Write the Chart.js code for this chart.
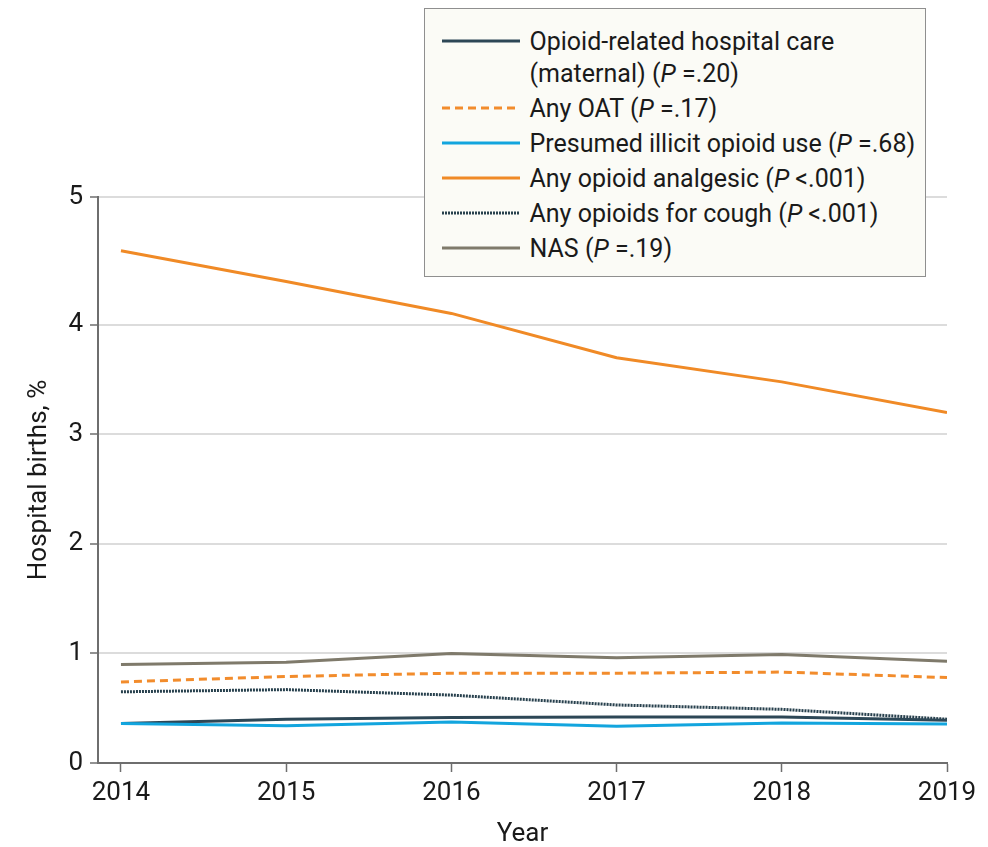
<!DOCTYPE html>
<html>
<head>
<meta charset="utf-8">
<title>Opioid-related hospital births, 2014-2019</title>
<script src="https://cdn.jsdelivr.net/npm/chart.js@4.4.1/dist/chart.umd.min.js"></script>
<style>
  html, body { margin: 0; padding: 0; background: #ffffff; }
  #wrap { position: relative; width: 988px; height: 847px; }
  #legend {
    position: absolute; left: 424px; top: 8px; width: 502px; height: 269px;
    box-sizing: border-box; background: #fbfbf6; border: 1.5px solid #8f8f8f;
    padding: 16.5px 0 0 16.5px;
    font-family: Roboto, "Noto Sans", sans-serif; font-size: 25px; color: #1a1a1a;
  }
  .row { display: flex; align-items: flex-start; margin-bottom: 3px; }
  .row svg { flex: 0 0 78px; margin-right: 10px; display: block; }
  .row .txt { line-height: 32px; white-space: nowrap; }
</style>
</head>
<body>
<div id="wrap">
  <canvas id="chart" width="988" height="847"></canvas>
  <div id="legend"></div>
</div>
<script>
// Share of hospital births (%) by year
const years = [2014, 2015, 2016, 2017, 2018, 2019];
const maternalCare    = [0.36, 0.40, 0.415, 0.42, 0.42, 0.39];
const anyOAT          = [0.74, 0.79, 0.82, 0.82, 0.83, 0.78];
const illicitUse      = [0.36, 0.34, 0.375, 0.335, 0.365, 0.355];
const opioidAnalgesic = [4.58, 4.34, 4.09, 3.70, 3.48, 3.20];
const coughOpioids    = [0.65, 0.67, 0.62, 0.53, 0.49, 0.40];
const nas             = [0.90, 0.92, 1.00, 0.96, 0.99, 0.93];

const seriesLabels = [
  ['Opioid-related hospital care', '(maternal)'],
  ['Any OAT'],
  ['Presumed illicit opioid use'],
  ['Any opioid analgesic'],
  ['Any opioids for cough'],
  ['NAS']
];
const pValues = ['=.20', '=.17', '=.68', '<.001', '<.001', '=.19'];
const yTickValues = [0, 1, 2, 3, 4, 5];

const seriesData = [maternalCare, anyOAT, illicitUse, opioidAnalgesic, coughOpioids, nas];
const seriesStyles = [
  { color: '#2d4756', dash: [],       order: 1 },
  { color: '#f28c2c', dash: [8, 5],   order: 2 },
  { color: '#12a5de', dash: [],       order: 0 },
  { color: '#f08a26', dash: [],       order: 3 },
  { color: '#27404d', dash: [2, 1],   order: 4 },
  { color: '#7f7a6b', dash: [],       order: 5 }
];

// Linear value axis whose top interval (4-5) gets a larger share of the height
const knotValues = [0, 4, 5];
const knotShares = [0, 0.774, 1];
class StretchedLinearScale extends Chart.LinearScale {
  toShare(v) {
    for (let i = 1; i < knotValues.length; i++) {
      if (v <= knotValues[i] || i === knotValues.length - 1) {
        const t = (v - knotValues[i - 1]) / (knotValues[i] - knotValues[i - 1]);
        return knotShares[i - 1] + t * (knotShares[i] - knotShares[i - 1]);
      }
    }
    return 0;
  }
  fromShare(s) {
    for (let i = 1; i < knotShares.length; i++) {
      if (s <= knotShares[i] || i === knotShares.length - 1) {
        const t = (s - knotShares[i - 1]) / (knotShares[i] - knotShares[i - 1]);
        return knotValues[i - 1] + t * (knotValues[i] - knotValues[i - 1]);
      }
    }
    return 0;
  }
  getPixelForValue(value) {
    if (value === null || value === undefined || isNaN(value)) return NaN;
    return this.getPixelForDecimal(this.toShare(value));
  }
  getValueForPixel(pixel) {
    return this.fromShare(this.getDecimalForPixel(pixel));
  }
}
StretchedLinearScale.id = 'stretchedLinear';
StretchedLinearScale.defaults = Chart.LinearScale.defaults;
Chart.register(StretchedLinearScale);

const FONT = 'Roboto, "Noto Sans", sans-serif';
const AXIS_GREY = '#6e6e6e';
const TEXT = '#1a1a1a';

const datasets = seriesData.map((values, i) => ({
  label: seriesLabels[i].join(' '),
  data: values.map((v, j) => ({ x: years[j], y: v })),
  borderColor: seriesStyles[i].color,
  backgroundColor: seriesStyles[i].color,
  borderDash: seriesStyles[i].dash,
  borderWidth: 3,
  borderJoinStyle: 'round',
  pointRadius: 0,
  tension: 0,
  fill: false,
  order: seriesStyles[i].order
}));

const chart = new Chart(document.getElementById('chart'), {
  type: 'line',
  data: { datasets },
  options: {
    responsive: false,
    animation: false,
    layout: { padding: { top: 197, right: 41, left: 0, bottom: 0 } },
    plugins: { legend: { display: false }, tooltip: { enabled: false } },
    scales: {
      x: {
        type: 'linear',
        min: 2013.861,
        max: 2019,
        afterBuildTicks: s => { s.ticks = years.map(v => ({ value: v })); },
        afterFit: s => { s.height = 84; },
        border: { display: true, color: AXIS_GREY, width: 2 },
        grid: { drawOnChartArea: false, drawTicks: true, tickColor: AXIS_GREY, tickWidth: 1.5, tickLength: 9 },
        ticks: { color: TEXT, font: { family: FONT, size: 26 }, padding: 6, maxRotation: 0,
                 callback: v => String(v) },
        title: { display: true, text: 'Year', color: TEXT,
                 font: { family: FONT, size: 26, lineHeight: 1.0 }, padding: { top: 0, bottom: 0 } }
      },
      y: {
        type: 'stretchedLinear',
        min: 0,
        max: 5,
        afterBuildTicks: s => { s.ticks = yTickValues.map(v => ({ value: v })); },
        afterFit: s => { s.width = 98; },
        border: { display: true, color: AXIS_GREY, width: 2 },
        grid: { color: '#dcdcdc', lineWidth: 2, drawTicks: true, tickColor: AXIS_GREY, tickWidth: 1.5, tickLength: 8 },
        ticks: { color: TEXT, font: { family: FONT, size: 26 }, padding: 7 },
        title: { display: true, text: 'Hospital births, %', color: TEXT,
                 font: { family: FONT, size: 26, lineHeight: 1.2 }, padding: { top: 24, bottom: 0 } }
      }
    }
  }
});

// Legend with italic P in each entry
const legendEl = document.getElementById('legend');
chart.data.datasets.forEach((ds, i) => {
  const row = document.createElement('div');
  row.className = 'row';
  const dash = seriesStyles[i].dash.length ? ` stroke-dasharray="${seriesStyles[i].dash.join(' ')}"` : '';
  const lines = seriesLabels[i].slice();
  lines[lines.length - 1] += ` (<i>P</i> ${pValues[i].replace('<', '&lt;')})`;
  row.innerHTML =
    `<svg width="78" height="32"><line x1="0" y1="15" x2="78" y2="15" stroke="${ds.borderColor}" stroke-width="3"${dash}/></svg>` +
    `<div class="txt">${lines.join('<br>')}</div>`;
  legendEl.appendChild(row);
});
</script>
</body>
</html>
